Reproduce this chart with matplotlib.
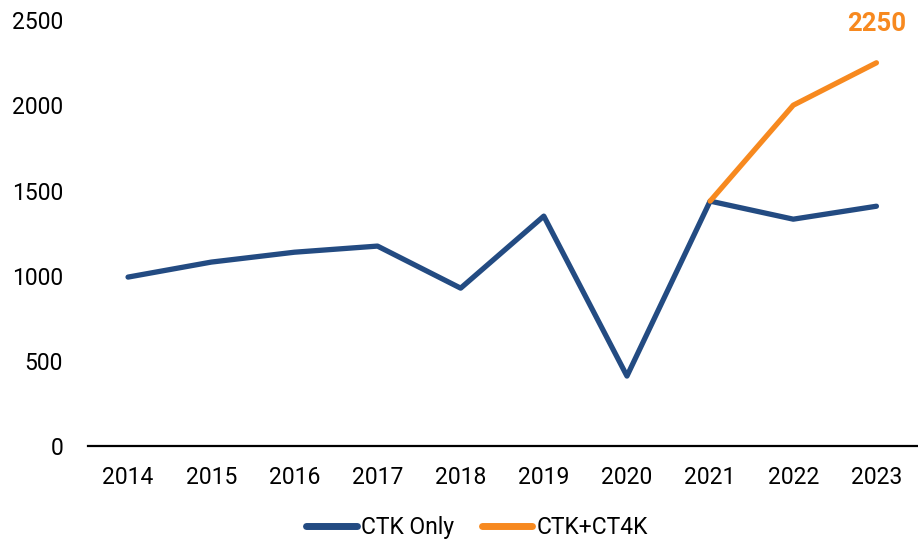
import matplotlib.pyplot as plt

plt.rcParams['font.family'] = ['Roboto', 'DejaVu Sans']

years = ['2014', '2015', '2016', '2017', '2018', '2019', '2020', '2021', '2022', '2023']
ctk_only = [992, 1080, 1138, 1174, 927, 1350, 411, 1438, 1332, 1408]
ctk_ct4k_years = ['2021', '2022', '2023']
ctk_ct4k = [1438, 2001, 2250]

blue = '#234B82'
orange = '#F7891F'

fig = plt.figure(figsize=(9.18, 5.46), dpi=100)
ax = fig.add_axes([0.096, 0.183, 0.904, 0.78])

x = list(range(len(years)))
x2 = [years.index(y) for y in ctk_ct4k_years]
ax.plot(x, ctk_only, color=blue, linewidth=3.8, label='CTK Only', solid_capstyle='round')
ax.plot(x2, ctk_ct4k, color=orange, linewidth=3.8, label='CTK+CT4K', solid_capstyle='round')

ax.annotate(str(ctk_ct4k[-1]), (x2[-1], ctk_ct4k[-1]), xytext=(0, 19), textcoords='offset points',
            ha='center', va='bottom', color=orange, fontsize=18.5, fontweight='bold')

ax.set_xlim(-0.48, len(years) - 0.5)
ax.set_ylim(0, 2500)
ax.set_yticks([0, 500, 1000, 1500, 2000, 2500])
ax.set_xticks(x)
ax.set_xticklabels(years)
ax.tick_params(axis='both', length=0, labelsize=16.5, pad=14)
ax.tick_params(axis='y', pad=18)

for s in ['top', 'right', 'left']:
    ax.spines[s].set_visible(False)
ax.spines['bottom'].set_linewidth(1.6)
ax.spines['bottom'].set_color('black')

fig.legend(loc='lower center', bbox_to_anchor=(0.52, -0.025), ncol=2, frameon=False,
           fontsize=16.5, handlelength=2.2, handletextpad=0.2, columnspacing=1.2)
for line in fig.legends[0].get_lines():
    line.set_linewidth(5)

fig.savefig('out.png', dpi=100)
